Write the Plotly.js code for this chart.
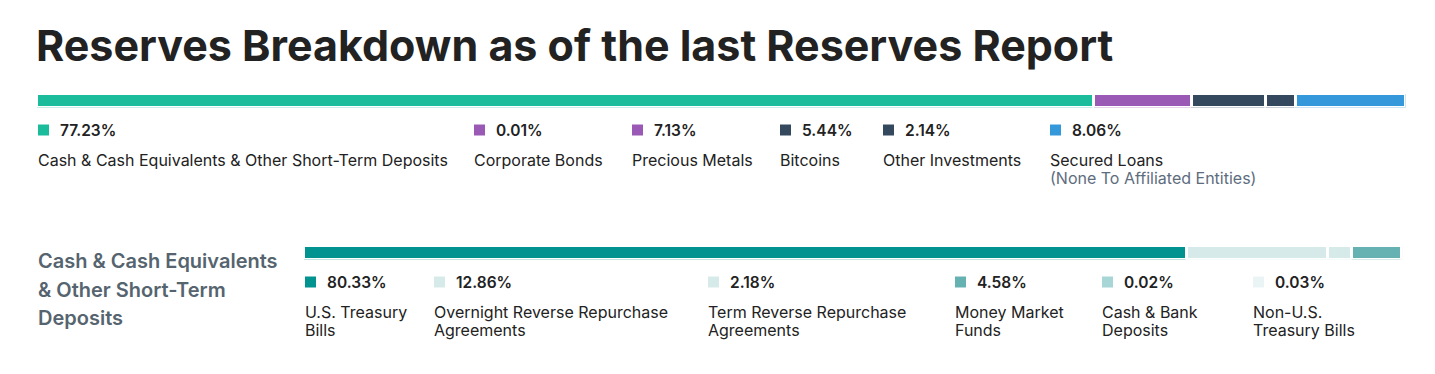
<!DOCTYPE html>
<html>
<head>
<meta charset="utf-8">
<script src="https://cdn.plot.ly/plotly-3.0.1.min.js"></script>
<style>html,body{margin:0;padding:0;background:#fff;}#chart{width:1435px;height:374px;}</style>
</head>
<body>
<div id="chart"></div>
<script>
// ---- data ----
const chartTitle = "Reserves Breakdown as of the last Reserves Report";
const topCategories = ["Cash & Cash Equivalents & Other Short-Term Deposits", "Corporate Bonds", "Precious Metals", "Bitcoins", "Other Investments", "Secured Loans"];
const topNotes = ["", "", "", "", "", "(None To Affiliated Entities)"];
const topValues = [77.23, 0.01, 7.13, 5.44, 2.14, 8.06];
const topColors = ["#1abc9c", "#9b59b6", "#9b59b6", "#34495e", "#34495e", "#3498db"];

const subTitleLines = ["Cash & Cash Equivalents", "& Other Short-Term", "Deposits"];
const bottomCategories = [["U.S. Treasury", "Bills"], ["Overnight Reverse Repurchase", "Agreements"], ["Term Reverse Repurchase", "Agreements"], ["Money Market", "Funds"], ["Cash & Bank", "Deposits"], ["Non-U.S.", "Treasury Bills"]];
const bottomValues = [80.33, 12.86, 2.18, 4.58, 0.02, 0.03];
const bottomColors = ["#009390", "#d5eae9", "#d5eae9", "#66b2b2", "#a8d5d5", "#eaf4f4"];

// ---- layout constants (pixels) ----
const W = 1435, H = 374;
const topLegendX = [38, 474, 632, 780, 883, 1050];
const bottomLegendX = [305, 434, 708, 955, 1102, 1253];
const FONT = "Inter, 'Noto Sans', sans-serif";
const px = v => v / W;
const py = v => 1 - v / H;

const traces = [];
const total = a => a.reduce((s, v) => s + v, 0);
topValues.forEach((v, i) => traces.push({
  type: "bar", orientation: "h", x: [v], y: [0], name: topCategories[i],
  xaxis: "x", yaxis: "y", width: 1,
  marker: {color: topColors[i], line: {color: "#ffffff", width: 3}},
  hoverinfo: "skip"
}));
bottomValues.forEach((v, i) => traces.push({
  type: "bar", orientation: "h", x: [v], y: [0], name: bottomCategories[i].join(" "),
  xaxis: "x2", yaxis: "y2", width: 1,
  marker: {color: bottomColors[i], line: {color: "#ffffff", width: 3}},
  hoverinfo: "skip"
}));

const annotations = [];
const shapes = [];
function txt(x, y, text, size, color, weight) {
  annotations.push({xref: "paper", yref: "paper", x: px(x), y: py(y), xanchor: "left", yanchor: "middle",
    text: text, showarrow: false, font: {family: FONT, size: size, color: color, weight: weight}});
}
function sq(x, yc, color) {
  shapes.push({type: "rect", xref: "paper", yref: "paper", x0: px(x), x1: px(x + 11), y0: py(yc - 5.5), y1: py(yc + 5.5),
    fillcolor: color, line: {width: 0}});
}
topCategories.forEach((c, i) => {
  const x = topLegendX[i];
  sq(x, 130, topColors[i]);
  txt(x + 20, 130, topValues[i].toFixed(2) + "%", 15.5, "#222222", 600);
  txt(x - 2, 160, c, 16, "#222222", 400);
  if (topNotes[i]) txt(x - 2, 178, topNotes[i], 16, "#5d6d7e", 400);
});
subTitleLines.forEach((l, i) => txt(36, 261 + i * 28.5, l, 20, "#55646e", 600));
bottomCategories.forEach((c, i) => {
  const x = bottomLegendX[i];
  sq(x, 282, bottomColors[i]);
  txt(x + 20, 282, bottomValues[i].toFixed(2) + "%", 15.5, "#222222", 600);
  c.forEach((l, j) => txt(x - 2, 312 + j * 18, l, 16, "#222222", 400));
});

const layout = {
  width: W, height: H, margin: {l: 0, r: 0, t: 0, b: 0},
  paper_bgcolor: "#ffffff", plot_bgcolor: "#ffffff",
  showlegend: false, barmode: "stack",
  title: {text: "<b>" + chartTitle + "</b>", xref: "container", yref: "container", x: px(36), xanchor: "left",
    y: py(46), yanchor: "middle", font: {family: FONT, size: 43, color: "#222222"}},
  xaxis: {domain: [px(36.5), px(1405.5)], range: [0, total(topValues)], visible: false, fixedrange: true},
  yaxis: {domain: [py(107.5), py(93.5)], range: [-0.5, 0.5], visible: false, fixedrange: true},
  xaxis2: {domain: [px(303.5), px(1402.5)], range: [0, total(bottomValues)], visible: false, anchor: "y2", fixedrange: true},
  yaxis2: {domain: [py(259.5), py(245.5)], range: [-0.5, 0.5], visible: false, anchor: "x2", fixedrange: true},
  annotations: annotations, shapes: shapes
};
Plotly.newPlot("chart", traces, layout, {displayModeBar: false, staticPlot: true});
</script>
</body>
</html>
